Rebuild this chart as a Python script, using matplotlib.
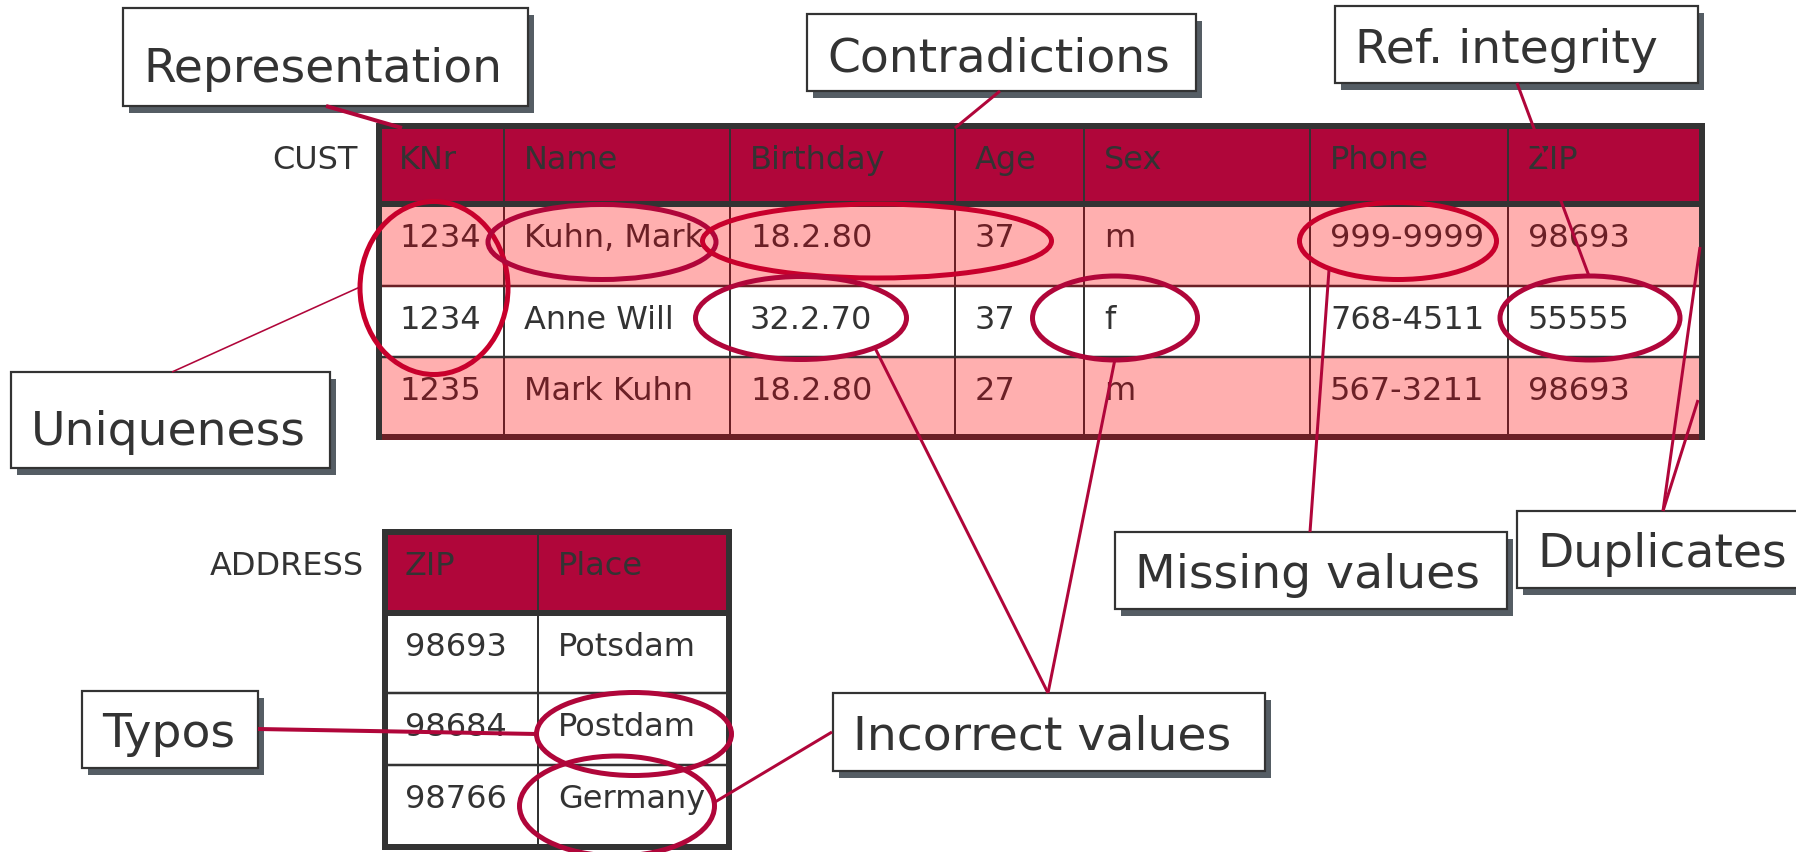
import numpy as np
import matplotlib
matplotlib.use('Agg')
import matplotlib.pyplot as plt
from matplotlib.patches import Rectangle, Ellipse

plt.rcParams['font.family'] = ['DejaVu Sans']

# table contents
cust_columns = ['KNr', 'Name', 'Birthday', 'Age', 'Sex', 'Phone', 'ZIP']
cust_rows = [['1234', 'Kuhn, Mark', '18.2.80', '37', 'm', '999-9999', '98693'],
             ['1234', 'Anne Will', '32.2.70', '37', 'f', '768-4511', '55555'],
             ['1235', 'Mark Kuhn', '18.2.80', '27', 'm', '567-3211', '98693']]
address_columns = ['ZIP', 'Place']
address_rows = [['98693', 'Potsdam'],
                ['98684', 'Postdam'],
                ['98766', 'Germany']]
issue_labels = ['Representation', 'Contradictions', 'Ref. integrity', 'Uniqueness',
                'Missing values', 'Duplicates', 'Typos', 'Incorrect values']

CRIMSON = '#B0063A'
BRIGHT = '#C8002C'
PINK = '#FFAFAF'
MAROON = '#6B2026'
DARK = '#333333'
SHADOW = '#555D64'

W, H = 1796, 852
fig = plt.figure(figsize=(W / 100, H / 100), dpi=100)
ax = fig.add_axes([0, 0, 1, 1])
ax.set_xlim(0, W)
ax.set_ylim(H, 0)
ax.axis('off')

def px(v):
    return v * 0.72

CELL_FS = 23
LABEL_FS = 34

def draw_table(ax, cols, rows, xe, ye, fills, name, name_x):
    # header
    ax.add_patch(Rectangle((xe[0], ye[0]), xe[-1] - xe[0], ye[1] - ye[0], fc=CRIMSON, ec='none', zorder=1))
    for i, f in enumerate(fills):
        ax.add_patch(Rectangle((xe[0], ye[i + 1]), xe[-1] - xe[0], ye[i + 2] - ye[i + 1], fc=f, ec='none', zorder=1))
    # vertical lines
    for x in xe[1:-1]:
        ax.plot([x, x], [ye[0], ye[1]], color=DARK, lw=px(2), zorder=2)
        for i, f in enumerate(fills):
            c = MAROON if f == PINK else DARK
            ax.plot([x, x], [ye[i + 1], ye[i + 2]], color=c, lw=px(2), zorder=2)
    # horizontal lines
    for i in range(2, len(ye) - 1):
        c = MAROON if fills[i - 2] == PINK and i == 2 else DARK
        ax.plot([xe[0], xe[-1]], [ye[i], ye[i]], color=c, lw=px(2.5), zorder=2)
    ax.plot([xe[0], xe[-1]], [ye[1], ye[1]], color=DARK, lw=px(6), zorder=3)
    ax.add_patch(Rectangle((xe[0], ye[0]), xe[-1] - xe[0], ye[-1] - ye[0], fc='none', ec=DARK, lw=px(6), zorder=3))
    if fills[-1] == PINK:
        ax.plot([xe[0] + 3, xe[-1] - 3], [ye[-1], ye[-1]], color=MAROON, lw=px(6), zorder=3, solid_capstyle='butt')
    # text
    for j, c in enumerate(cols):
        ax.text(xe[j] + 20, ye[0] + 43, c, fontsize=CELL_FS, color=DARK, va='baseline', zorder=4)
    for i, r in enumerate(rows):
        tc = MAROON if fills[i] == PINK else DARK
        for j, v in enumerate(r):
            ax.text(xe[j] + 20, ye[i + 1] + 43, v, fontsize=CELL_FS, color=tc, va='baseline', zorder=4)
    ax.text(name_x, ye[0] + 43, name, fontsize=CELL_FS, color=DARK, ha='right', va='baseline', zorder=4)

cust_x = [379, 504, 730, 955, 1084, 1310, 1508, 1702]
cust_y = [126, 204, 286, 357, 437]
draw_table(ax, cust_columns, cust_rows, cust_x, cust_y, [PINK, 'white', PINK], 'CUST', 358)

addr_x = [385, 538, 729]
addr_y = [532, 613, 693, 765, 847]
draw_table(ax, address_columns, address_rows, addr_x, addr_y, ['white', 'white', 'white'], 'ADDRESS', 364)

# label boxes: x0, y0, x1, y1, text baseline
boxes = [(123, 8, 528, 106, 82),
         (807, 14, 1196, 91, 71),
         (1335, 6, 1698, 83, 63),
         (11, 372, 330, 468, 445),
         (1115, 532, 1507, 609, 588),
         (1517, 511, 1800, 588, 567),
         (82, 691, 258, 768, 747),
         (833, 693, 1265, 771, 750)]
for lab, (x0, y0, x1, y1, yb) in zip(issue_labels, boxes):
    ax.add_patch(Rectangle((x0 + 6, y0 + 7), x1 - x0, y1 - y0, fc=SHADOW, ec='none', zorder=5))
    ax.add_patch(Rectangle((x0, y0), x1 - x0, y1 - y0, fc='white', ec=DARK, lw=px(2.2), zorder=6))
    ax.text(x0 + 20, yb, lab, fontsize=LABEL_FS, color=DARK, va='baseline', zorder=7)

# ellipses: cx, cy, w, h, colour
ellipses = [(434, 288, 148, 173, BRIGHT),
            (602, 242, 228, 75, CRIMSON),
            (877, 241, 349, 74, BRIGHT),
            (801, 318, 211, 83, CRIMSON),
            (1115, 318, 165, 84, CRIMSON),
            (1398, 241, 197, 77, BRIGHT),
            (1590, 318, 180, 84, CRIMSON),
            (634, 734, 195, 83, CRIMSON),
            (617, 806, 195, 100, CRIMSON)]
for cx, cy, w, h, c in ellipses:
    ax.add_patch(Ellipse((cx, cy), w, h, fc='none', ec=c, lw=px(5), zorder=8))

# callout lines: (x0, y0, x1, y1, width px)
callouts = [(326, 106, 402, 128, 4),
            (1000, 91, 955, 128, 3),
            (1517, 83, 1589, 276, 3),
            (172, 372, 360, 287, 1.6),
            (1310, 532, 1329, 270, 3),
            (1663, 511, 1700, 247, 3),
            (1663, 511, 1698, 400, 3),
            (258, 729, 537, 734, 4),
            (1048, 693, 875, 348, 3),
            (1048, 693, 1115, 359, 3),
            (832, 732, 715, 802, 3)]
for x0, y0, x1, y1, lw in callouts:
    ax.plot([x0, x1], [y0, y1], color=CRIMSON, lw=px(lw), zorder=8, solid_capstyle='butt')

fig.savefig('out.png', dpi=100, facecolor='white')
